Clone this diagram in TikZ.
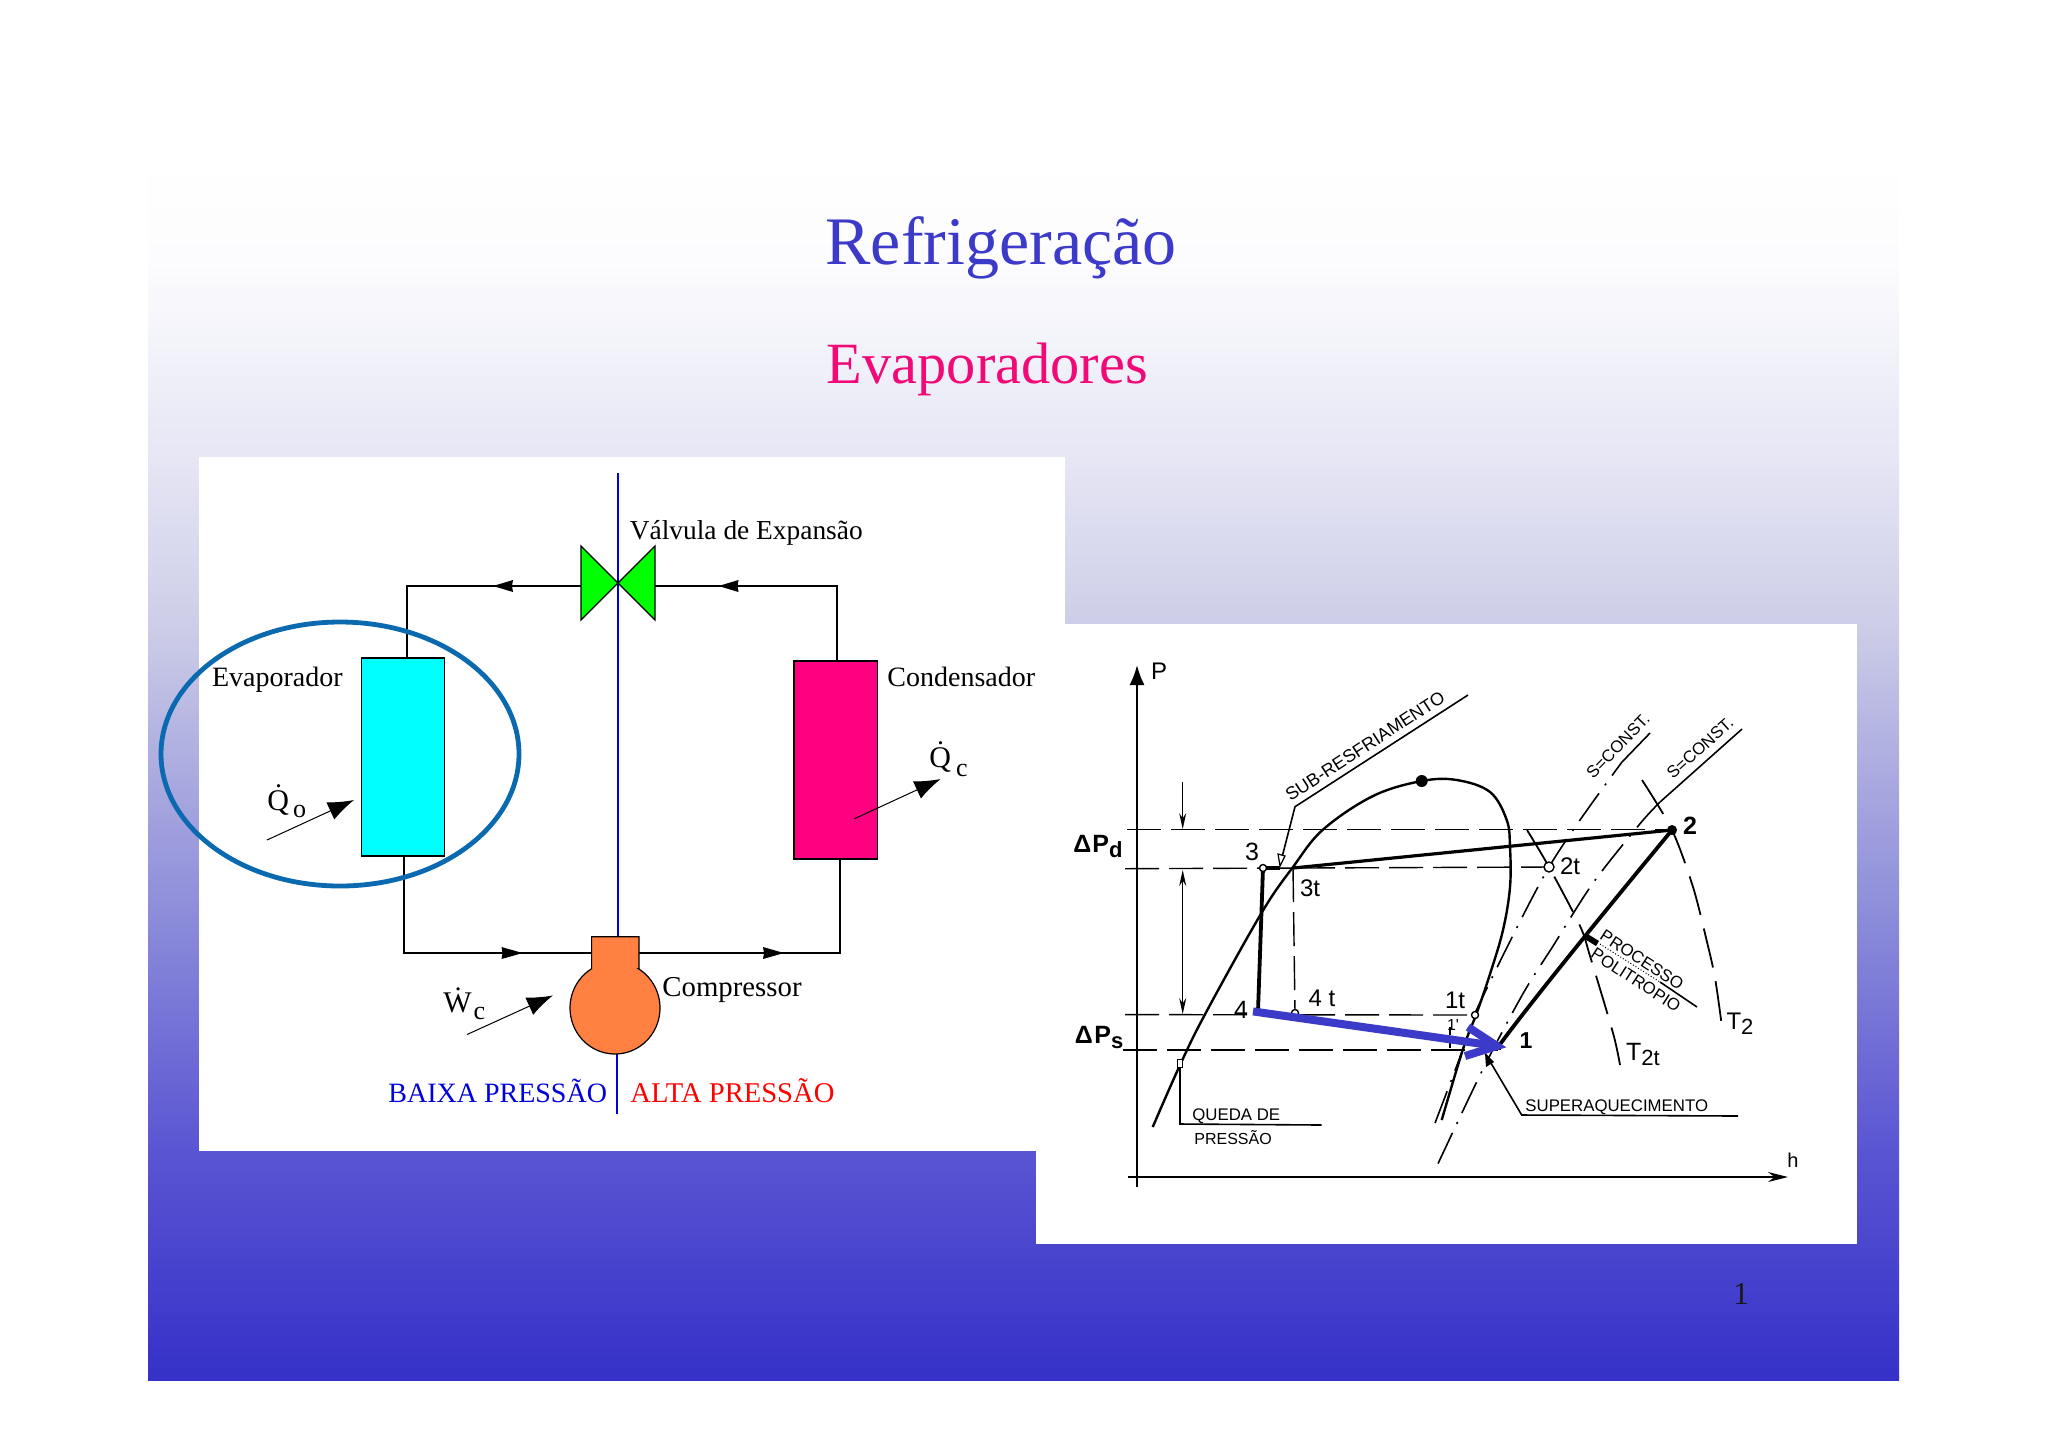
\documentclass[tikz,border=0pt]{standalone}
\usepackage{fontspec}
\setmainfont{Liberation Serif}
\newfontfamily\scanfont{Liberation Sans}
\usetikzlibrary{arrows.meta,calc}
\definecolor{slideblue}{RGB}{58,52,200}
\definecolor{titlepink}{RGB}{240,10,120}
\definecolor{titleblue}{RGB}{60,58,200}
\definecolor{ovalblue}{RGB}{10,105,175}
\definecolor{evapcyan}{RGB}{0,255,255}
\definecolor{condpink}{RGB}{255,0,128}
\definecolor{comporange}{RGB}{255,128,64}
\definecolor{valvegreen}{RGB}{0,255,0}
\definecolor{linebluethin}{RGB}{0,0,220}
\pgfdeclareverticalshading{slidebg}{100bp}{%
rgb(0bp)=(0.21,0.19,0.784);
rgb(25bp)=(0.21,0.19,0.784);
rgb(34.4bp)=(0.353,0.333,0.824);
rgb(44bp)=(0.549,0.549,0.855);
rgb(51.5bp)=(0.706,0.706,0.886);
rgb(55.8bp)=(0.804,0.804,0.91);
rgb(62.7bp)=(0.902,0.902,0.961);
rgb(70.7bp)=(0.988,0.988,0.996);
rgb(75bp)=(1,1,1);
rgb(100bp)=(1,1,1)}
\newcommand{\fs}[1]{\fontsize{#1}{#1}\selectfont}
\tikzset{
  x=0.5pt,y=-0.5pt,
  pipe/.style={draw=black,line width=0.6pt},
  pipehead/.style={fill=black},
  unit/.style={draw=black,line width=0.6pt,minimum width=41.6pt,minimum height=99pt,inner sep=0pt},
  serifl/.style={font=\fs{14},inner sep=0pt,anchor=west},
  heat/.style={line width=0.5pt,-{Latex[length=13pt,width=9.5pt]}},
  scan/.style={font=\scanfont\fs{12},inner sep=0pt},
  smallscan/.style={font=\scanfont\fs{8.4},inner sep=0pt},
  ink/.style={line width=0.8pt},
  heavy/.style={line width=1.9pt},
  longdash/.style={line width=0.7pt,dash pattern=on 17pt off 5pt},
  tempdash/.style={line width=0.9pt,dash pattern=on 20pt off 7pt},
  dashdot/.style={line width=0.8pt,dash pattern=on 17pt off 5pt on 1pt off 5pt},
  dim/.style={line width=0.6pt},
  dimhead/.style={-{Stealth[length=8pt,width=3.5pt]}},
  marker/.style={circle,draw=black,fill=white,line width=0.7pt,inner sep=0pt,minimum size=3.5pt},
  solidmark/.style={circle,fill=black,inner sep=0pt,minimum size=5pt},
}
\begin{document}
\begin{tikzpicture}
\useasboundingbox (0,0) rectangle (2048,1447);
% slide
\path[shading=slidebg,shading angle=0] (148,157) rectangle (1899,1380);
\node[font=\fs{34},text=titleblue,inner sep=0pt] (title) at (1001,248) {Refrigeração};
\node[font=\fs{29.2},text=titlepink,inner sep=0pt] (subtitle) at (987.5,369.5) {Evaporadores};
\node[font=\fs{16},text=black!90,inner sep=0pt] (pagenum) at (1741,1294) {1};
% left panel
\fill[white] (198.6,457) rectangle (1065,1151);
% separator
\coordinate (septop) at (618,473);
\coordinate (sepmid) at (618,937);
\coordinate (seplow) at (617,1054);
\coordinate (sepbot) at (617,1114);
\draw[linebluethin,line width=0.6pt] (septop) -- (sepmid);
\draw[linebluethin,line width=0.6pt] (seplow) -- (sepbot);
% units
\node[unit,fill=evapcyan] (evap) at (403,757) {};
\node[unit,fill=condpink] (cond) at (835.6,760) {};
% valve
\coordinate (valvec) at (618,583);
\coordinate (valvel) at (581,586);
\coordinate (valver) at (655,586);
\draw[pipe,fill=valvegreen] (581,546) -- (valvec) -- (581,620) -- cycle;
\draw[pipe,fill=valvegreen] (655,546) -- (valvec) -- (655,620) -- cycle;
% compressor
\coordinate (compl) at (591.6,953);
\coordinate (compr) at (639,953);
\draw[pipe,fill=comporange] (591.6,968.8) -- (591.6,936.7) -- (639,936.7) -- (639,968.8)
  -- plot[domain=-58.5:238.5,samples=70] ({615+45*cos(\x)},{1008+46*sin(\x)}) -- cycle;
% pipes
\draw[pipe] (valvel) -- (407,586) -- (evap.north -| 407,586);
\draw[pipe] (valver) -- (837,586) -- (cond.north -| 837,586);
\draw[pipe] (evap.south -| 404,953) -- (404,953) -- (compl);
\draw[pipe] (cond.south -| 840,953) -- (840,953) -- (compr);
\fill[pipehead] (493,586) -- (513,580) -- (512,586) -- (513,592) -- cycle;
\fill[pipehead] (718.5,586) -- (738.5,580) -- (737.5,586) -- (738.5,592) -- cycle;
\fill[pipehead] (522.7,953) -- (501.5,947) -- (502.5,953) -- (501.5,959) -- cycle;
\fill[pipehead] (784,953) -- (763,947) -- (764,953) -- (763,959) -- cycle;
% heat arrows
\coordinate (qostart) at (267,840);
\coordinate (qoend) at (354,800);
\coordinate (qcstart) at (854.5,818.7);
\coordinate (qcend) at (940.6,779);
\coordinate (wcstart) at (467,1034.5);
\coordinate (wcend) at (553,995.4);
\draw[heat] (qostart) -- (qoend);
\draw[heat] (qcstart) -- (qcend);
\draw[heat] (wcstart) -- (wcend);
% labels
\node[serifl] (levap) at (211.6,680) {Evaporador};
\node[serifl] (lcond) at (887,677) {Condensador};
\node[serifl,font=\fs{13.7}] (lvalve) at (629.5,533) {Válvula de Expansão};
\node[serifl,font=\fs{14.4}] (lcomp) at (662,990) {Compressor};
\node[serifl,text=linebluethin] (lbaixa) at (388,1091) {BAIXA PRESSÃO};
\node[serifl,font=\fs{14.3},text=red] (lalta) at (630,1091) {ALTA PRESSÃO};
\node[font=\fs{15},inner sep=0pt,anchor=west] (lqo) at (267,801) {Q\char"0307\kern2pt\raisebox{-3.5pt}{\fs{13}o}};
\node[font=\fs{15},inner sep=0pt,anchor=west] (lqc) at (929,759) {Q\char"0307\kern2.5pt\raisebox{-4.5pt}{\fs{13}c}};
\node[font=\fs{15},inner sep=0pt,anchor=west] (lwc) at (443,1004) {W\char"0307\kern1pt\raisebox{-3.5pt}{\fs{13}c}};
% oval
\draw[ovalblue,line width=2.4pt] (340,754) ellipse [x radius=89.5pt,y radius=66pt];
% right panel
\fill[white] (1036,623.5) rectangle (1857,1244);
% axes
\coordinate (porigin) at (1137,1187);
\coordinate (ptop) at (1137,665);
\coordinate (horigin) at (1128,1177);
\coordinate (hend) at (1788,1177);
\draw[line width=1pt,-{Latex[length=10pt,width=7.5pt]}] (porigin) -- (ptop);
\draw[line width=0.7pt,-{Stealth[length=10pt,width=5pt]}] (horigin) -- (hend);
\node[scan] (lp) at (1159,671) {P};
\node[scan,font=\scanfont\fs{10}] (lh) at (1793,1160) {h};
% key points
\coordinate (p1) at (1498,1047);
\coordinate (p2) at (1672,830);
\coordinate (p3) at (1263,868);
\coordinate (p4) at (1258,1011);
\coordinate (p3t) at (1293,868);
\coordinate (p4t) at (1295,1013);
\coordinate (p1t) at (1475,1015);
\coordinate (p2t) at (1549,867);
% pressure lines
\draw[longdash] (1127,829.6) -- (1667,829.6);
\draw[longdash] (1125,868.7) -- (p2t);
\draw[longdash] (1125,1014.6) -- (p1t);
\draw[longdash] (1123,1050) -- (1498,1050);
\draw[longdash] (p3t) -- (p4t);
\draw[line width=0.6pt,dash pattern=on 4pt off 3pt] (1450,1027) -- (1450,1048);
% dimension arrows
\draw[dim,dimhead] (1182.7,782) -- (1182.7,829);
\draw[dim,{Stealth[length=8pt,width=3.5pt]}-{Stealth[length=8pt,width=3.5pt]}] (1182.7,870) -- (1182.7,1014);
% saturation curve
\draw[line width=1.2pt] plot[smooth,tension=0.6] coordinates {(1152.7,1127) (1180,1065) (1205.7,1013) (1261.7,912.6) (1293,867) (1323,829.6) (1373,796) (1421.7,781) (1456.7,780) (1490,792) (1506.7,820) (1510,847) (1510,887) (1503,930) (1490,974) (1476.7,1013) (1463,1049) (1441.7,1120)};
% isentropes
\draw[dashdot] plot[smooth] coordinates {(1435,1123) (1463,1049) (1475,1013) (1549,867) (1622,762)};
\draw[ink] (1622,762) -- (1650,733);
\draw[dashdot] plot[smooth] coordinates {(1438,1163.6) (1483,1069) (1523,993.6) (1553,946) (1593,883) (1640,823.7) (1660,802)};
\draw[ink] (1660,802) -- (1742,729);
% isotherms
\draw[tempdash] plot[smooth] coordinates {(1642,780) (1672,830) (1693,887) (1707,942) (1715,978) (1722,1027)};
\draw[tempdash] plot[smooth] coordinates {(1527,830) (1549,867) (1580,926) (1590,956) (1613,1033) (1620,1065)};
% cycle
\draw[heavy] (p3) -- (p4);
\draw[heavy] (p3) -- (1280,868);
\draw[heavy,line width=1.6pt] (p3t) -- (p2);
\draw[heavy] (p1) .. controls (1530,1003) and (1610,905) .. (p2);
% leaders
\draw[ink] (1468,695) -- (1295,806.7) -- (1280,865);
\draw[fill=white,line width=0.6pt] (1278,854) -- (1285,856) -- (1280,866) -- cycle;
\draw[ink] (1180,1063) -- (1180,1124) -- (1321.7,1125);
\draw[ink] (1738,1116) -- (1521.7,1115) -- (1485,1053);
\fill (1485,1053) -- (1494,1062) -- (1486,1067) -- cycle;
\fill (1586,933) -- (1599,941) -- (1596,946) -- (1583,938) -- cycle;
\draw[line width=0.5pt,densely dotted] (1600,944) -- (1660,982);
\draw[ink] (1660,982) -- (1697,1007);
% markers
\node[marker] (m3) at (p3) {};
\node[marker] (m4t) at (p4t) {};
\node[marker] (m1t) at (p1t) {};
\node[marker,minimum size=5pt] (m2t) at (p2t) {};
\node[solidmark] (m2) at (p2) {};
\node[solidmark,minimum size=6pt] (mtop) at (1421.7,781) {};
\node[fill=black,inner sep=0pt,minimum size=3pt] (m1) at (p1) {};
\node[draw,fill=white,inner sep=0pt,minimum width=2.5pt,minimum height=4pt] (mq) at (1180,1063) {};
% scan labels
\node[scan,font=\scanfont\bfseries\fs{12.5}] (ld) at (1098,846) {Δ\kern0.5pt P\raisebox{-2.5pt}{\fs{11}d}};
\node[scan,font=\scanfont\bfseries\fs{12.5}] (ls) at (1099,1037) {Δ\kern0.8pt P\raisebox{-2.5pt}{\fs{11}s}};
\node[scan,font=\scanfont\fs{12.5}] (l3) at (1252,852) {3};
\node[scan,font=\scanfont\fs{12.5}] (l4) at (1241,1010) {4};
\node[scan] (l3t) at (1310,888) {3t};
\node[scan] (l4t) at (1322,998) {4 t};
\node[scan] (l1t) at (1455,1000) {1t};
\node[scan,font=\scanfont\fs{8}] (l1p) at (1453,1025) {1'};
\node[scan,font=\scanfont\bfseries\fs{11.5}] (l1) at (1526,1041) {1};
\node[scan,font=\scanfont\bfseries\fs{12.5}] (l2) at (1690,826) {2};
\node[scan] (l2t) at (1570,866) {2t};
\node[scan,font=\scanfont\fs{12}] (lt2) at (1740,1024) {T\raisebox{-2.5pt}{\fs{11}2}};
\node[scan,font=\scanfont\fs{12.5}] (lt2t) at (1643,1054) {T\raisebox{-2.5pt}{\fs{11}2t}};
\node[smallscan,font=\scanfont\fs{9},rotate=33] (lsub) at (1365,746) {SUB-RESFRIAMENTO};
\node[smallscan,anchor=west] (lqueda) at (1192,1116) {QUEDA DE};
\node[smallscan,anchor=west,font=\scanfont\fs{8}] (lpress) at (1194,1138) {PRESSÃO};
\node[smallscan,anchor=west] (lsuper) at (1525,1107) {SUPERAQUECIMENTO};
\node[smallscan,rotate=-33] (lproc) at (1642,960) {PROCESSO};
\node[smallscan,rotate=-33] (lpoli) at (1636,980) {POLITROPIO};
\node[smallscan,rotate=46] (ls1) at (1618,746) {S=CONST.};
\node[smallscan,rotate=42] (ls2) at (1700,748) {S=CONST.};
% blue arrow
\coordinate (bstart) at (1253,1011.4);
\coordinate (btip) at (1497,1046);
\draw[titleblue,line width=4pt] (bstart) -- (btip);
\draw[titleblue,line width=4pt,miter limit=10] (1468,1027) -- (btip) -- (1465,1056);
\end{tikzpicture}
\end{document}
